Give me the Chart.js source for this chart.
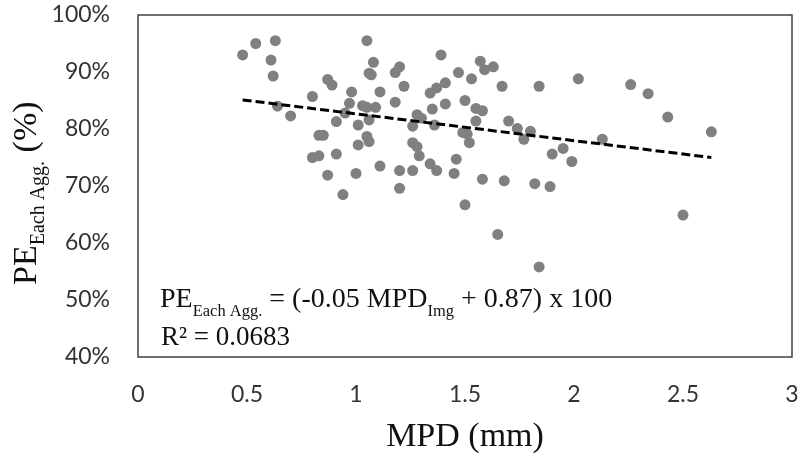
<!DOCTYPE html>
<html><head><meta charset="utf-8">
<script src="https://cdn.jsdelivr.net/npm/chart.js@4/dist/chart.umd.min.js"></script>
<style>html,body{margin:0;padding:0;background:#fff}#wrap{width:801px;height:456px}</style>
</head><body><div id="wrap"><canvas id="c" width="801" height="456"></canvas></div>
<script>
// MPD (mm) of each aggregate
const mpd = [0.48,0.54,0.63,0.61,0.62,0.64,0.70,0.80,0.87,0.89,1.05,1.08,1.06,1.07,1.20,1.18,1.22,0.98,1.11,1.18,
  0.97,1.03,1.05,1.09,0.95,1.06,0.91,1.01,1.28,1.26,0.83,0.85,1.05,1.06,1.01,1.26,1.28,1.29,0.80,0.83,
  0.91,1.11,1.20,1.26,0.87,1.00,1.20,0.94,1.39,1.57,1.63,1.59,1.47,1.53,1.41,1.37,1.34,1.67,1.84,2.02,
  1.41,1.50,1.35,1.55,1.58,1.30,1.36,1.55,1.70,1.74,1.80,1.49,1.51,1.77,2.13,1.52,1.34,1.37,1.46,1.45,
  1.58,1.68,1.82,1.89,1.90,1.95,1.99,1.50,1.65,1.84,2.26,2.34,2.43,2.63,2.50];
// PE of each aggregate (%)
const pe = [93.0,95.0,95.5,92.1,89.3,84.0,82.3,85.7,88.7,87.7,95.5,91.7,89.8,89.5,90.9,89.9,87.5,86.5,86.5,84.7,
  84.5,84.1,83.8,83.8,82.8,81.6,81.3,80.7,82.5,80.5,78.9,78.9,78.7,77.8,77.2,77.6,76.9,75.3,75.0,75.3,
  75.6,73.5,72.7,72.7,71.9,72.2,69.6,68.5,93.0,91.9,90.9,90.4,89.9,88.8,88.1,87.2,86.3,87.5,87.5,88.8,
  84.4,85.0,83.5,83.6,83.2,81.9,80.7,81.4,81.4,80.1,79.6,79.4,79.1,78.2,78.2,77.6,73.9,72.7,74.7,72.2,
  71.2,70.9,70.4,69.9,75.6,76.6,74.3,66.7,61.5,55.8,87.8,86.2,82.1,79.5,64.9];
// trend line end points (as drawn)
const trendX = [0.48, 2.63];
const trendY = [85.1, 75.0];
const xTicks = [0, 0.5, 1, 1.5, 2, 2.5, 3];
const yTicks = [40, 50, 60, 70, 80, 90, 100];

const points = mpd.map((x, i) => ({x: x, y: pe[i]}));
const trend = trendX.map((x, i) => ({x: x, y: trendY[i]}));

const SERIF = '"Liberation Serif", "Times New Roman", serif';
const TICKFONT = 'Lato';

const overlay = {
  id: 'overlay',
  afterDraw(chart) {
    const ctx = chart.ctx;
    const a = chart.chartArea;
    ctx.save();
    ctx.strokeStyle = '#404040';
    ctx.lineWidth = 1.5;
    ctx.strokeRect(a.left, a.top, a.right - a.left, a.bottom - a.top);

    ctx.fillStyle = '#111';
    ctx.textBaseline = 'alphabetic';
    ctx.font = '34px ' + SERIF;
    ctx.textAlign = 'center';
    ctx.fillText('MPD (mm)', (a.left + a.right) / 2, 446);
    ctx.textAlign = 'left';

    ctx.save();
    ctx.translate(36, 285);
    ctx.rotate(-Math.PI / 2);
    let x = 0;
    ctx.font = '34px ' + SERIF;
    ctx.fillText('PE', x, 0); x += ctx.measureText('PE').width;
    ctx.font = '20px ' + SERIF;
    ctx.fillText('Each Agg.', x, 8); x += ctx.measureText('Each Agg.').width;
    ctx.font = '34px ' + SERIF;
    ctx.fillText(' (%)', x, 0);
    ctx.restore();

    x = 160;
    const by = 306.5;
    const seg = (t, size, dy) => {
      ctx.font = size + 'px ' + SERIF;
      ctx.fillText(t, x, by + dy);
      x += ctx.measureText(t).width;
    };
    seg('PE', 28, 0);
    seg('Each Agg.', 16.5, 9);
    seg(' = (-0.05 MPD', 28, 0);
    seg('Img', 16.5, 9);
    seg(' + 0.87) x 100', 28, 0);
    ctx.font = '27px ' + SERIF;
    ctx.fillText('R\u00B2 = 0.0683', 161, 345);
    ctx.restore();
  }
};

const zeroPad = s => { s.paddingTop = 0; s.paddingBottom = 0; s.paddingLeft = 0; s.paddingRight = 0; };

new Chart(document.getElementById('c'), {
  type: 'scatter',
  data: {
    datasets: [
      {
        label: 'PE',
        data: points,
        backgroundColor: '#808080',
        borderWidth: 0,
        pointRadius: 5.5,
        pointHoverRadius: 5.5,
        order: 2
      },
      {
        label: 'Trend',
        type: 'line',
        data: trend,
        borderColor: '#000',
        borderWidth: 3,
        borderDash: [9, 4],
        pointRadius: 0,
        fill: false,
        order: 1
      }
    ]
  },
  options: {
    responsive: false,
    devicePixelRatio: 1,
    animation: false,
    layout: {padding: {top: 15, right: 9, left: 0, bottom: 0}},
    plugins: {legend: {display: false}, tooltip: {enabled: false}},
    scales: {
      x: {
        type: 'linear', min: 0, max: 3,
        afterBuildTicks: s => { s.ticks = xTicks.map(v => ({value: v})); },
        afterFit: s => { s.height = 99; zeroPad(s); },
        grid: {display: false, drawTicks: false},
        border: {display: false},
        ticks: {
          padding: 24, maxRotation: 0, autoSkip: false,
          font: {family: TICKFONT, size: 23},
          color: '#333',
          callback: v => String(v)
        }
      },
      y: {
        type: 'linear', min: 40, max: 100,
        afterBuildTicks: s => { s.ticks = yTicks.map(v => ({value: v})); },
        afterFit: s => { s.width = 138; zeroPad(s); },
        grid: {display: false, drawTicks: false},
        border: {display: false},
        ticks: {
          padding: 28,
          font: {family: TICKFONT, size: 23},
          color: '#333',
          callback: v => v + '%'
        }
      }
    }
  },
  plugins: [overlay]
});
</script>
</body></html>
